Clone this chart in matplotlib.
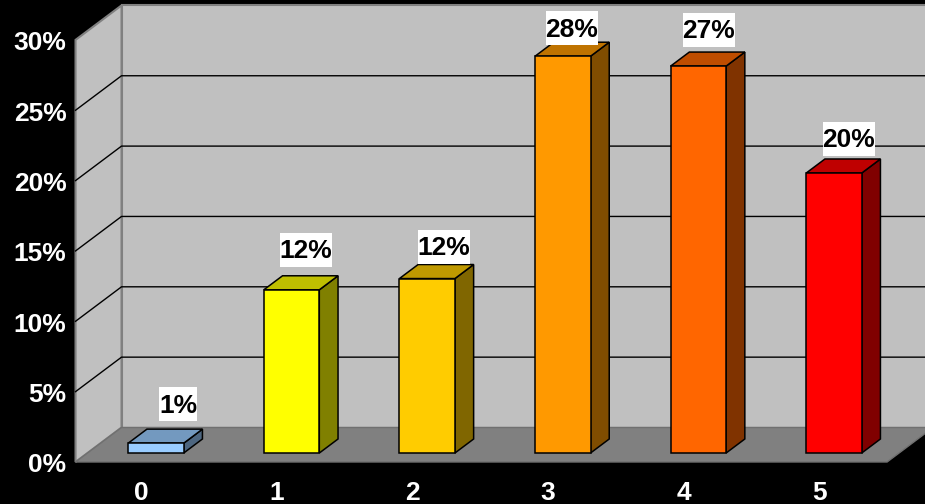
import matplotlib
matplotlib.use('Agg')
import matplotlib.pyplot as plt
from matplotlib.patches import Polygon, Rectangle

plt.rcParams['font.family'] = ['Liberation Sans', 'DejaVu Sans']

# data
categories = ['0', '1', '2', '3', '4', '5']
values = [0.7, 11.6, 12.4, 28.2, 27.5, 19.9]
value_labels = ['1%', '12%', '12%', '28%', '27%', '20%']
y_ticks = [0, 5, 10, 15, 20, 25, 30]
bar_colors = ['#99CCFF', '#FFFF00', '#FFCC00', '#FF9900', '#FF6600', '#FF0000']

# scale of the chart, pixels per category and per percent
PX_X = 135.6
PX_Y = 14.07
# shift of the back wall relative to the front of the floor, in data units
DEPTH_X = 46 / PX_X
DEPTH_Y = 34.5 / PX_Y
# bars stand inside the depth of the floor
BAR_FRONT = 0.26
BAR_BACK = 0.667
BAR_WIDTH = 55.5 / PX_X
X_LEFT = -0.505
X_RIGHT = 5.48

# where each value label sits relative to the top of its bar, in pixels
label_dx = [22, 14, 16.5, 9, 10.5, 15]
label_dy = [39, 40, 32, 28, 36, 34]


def proj(x, y, d):
    # category, percent, depth (0 front, 1 back) -> position on the flat axes
    return (x + d * DEPTH_X, y + d * DEPTH_Y)


def shade(color, k):
    rgb = matplotlib.colors.to_rgb(color)
    return tuple(c * k for c in rgb)


def face(ax, pts, color, edge, lw, z):
    ax.add_patch(Polygon([proj(*p) for p in pts], closed=True, facecolor=color,
                         edgecolor=edge, linewidth=lw, zorder=z, joinstyle='miter'))


fig = plt.figure(figsize=(9.25, 5.04), dpi=100, facecolor='black')
ax = fig.add_axes([0, 0, 1, 1])
ax.set_xlim(-144 / PX_X, (925 - 144) / PX_X)
ax.set_ylim(-42 / PX_Y, 462 / PX_Y)
ax.axis('off')

# walls and floor
top = y_ticks[-1]
face(ax, [(X_LEFT, 0, 1), (X_RIGHT, 0, 1), (X_RIGHT, top, 1), (X_LEFT, top, 1)], '#C0C0C0', '#808080', 1.5, 1)
face(ax, [(X_LEFT, 0, 0), (X_LEFT, top, 0), (X_LEFT, top, 1), (X_LEFT, 0, 1)], '#C0C0C0', '#808080', 1.5, 1)

# grid lines, on the side wall and the back wall
for t in y_ticks[1:-1]:
    xs, ys = zip(proj(X_LEFT, t, 0), proj(X_LEFT, t, 1), proj(X_RIGHT, t, 1))
    ax.plot(xs, ys, color='black', lw=1, zorder=2)

face(ax, [(X_LEFT, 0, 0), (X_RIGHT, 0, 0), (X_RIGHT, 0, 1), (X_LEFT, 0, 1)], '#808080', '#707070', 1, 3)

# bars
for i, v in enumerate(values):
    x0 = i - BAR_WIDTH / 2
    x1 = i + BAR_WIDTH / 2
    c = bar_colors[i]
    face(ax, [(x1, 0, BAR_FRONT), (x1, 0, BAR_BACK), (x1, v, BAR_BACK), (x1, v, BAR_FRONT)], shade(c, 0.5), 'black', 1.1, 4)
    face(ax, [(x0, v, BAR_FRONT), (x1, v, BAR_FRONT), (x1, v, BAR_BACK), (x0, v, BAR_BACK)], shade(c, 0.75), 'black', 1.1, 4)
    face(ax, [(x0, 0, BAR_FRONT), (x1, 0, BAR_FRONT), (x1, v, BAR_FRONT), (x0, v, BAR_FRONT)], c, 'black', 1.1, 5)

# value labels on white boxes
for i, v in enumerate(values):
    cx, cy = proj(i, v, BAR_FRONT)
    cx += label_dx[i] / PX_X
    cy += label_dy[i] / PX_Y
    w = (len(value_labels[i]) - 1) * 14.5 + 23
    ax.add_patch(Rectangle((cx - w / 2 / PX_X, cy - 17 / PX_Y), w / PX_X, 34 / PX_Y,
                           facecolor='white', edgecolor='none', zorder=6))
    ax.annotate(value_labels[i], xy=(cx, cy), xytext=(0, -1), textcoords='offset points',
                color='black', fontsize=19, fontweight='bold', ha='center', va='center', zorder=7)

# axis labels
for t in y_ticks:
    ax.annotate(f'{t}%', xy=proj(X_LEFT, t, 0), xytext=(-6.5, -2.5), textcoords='offset points',
                color='white', fontsize=19, fontweight='bold', ha='right', va='center')
for i, name in enumerate(categories):
    ax.annotate(name, xy=(i, 0), xytext=(-2, -22.5), textcoords='offset points',
                color='white', fontsize=19, fontweight='bold', ha='center', va='center')

fig.savefig('out.png', dpi=100, facecolor='black')
